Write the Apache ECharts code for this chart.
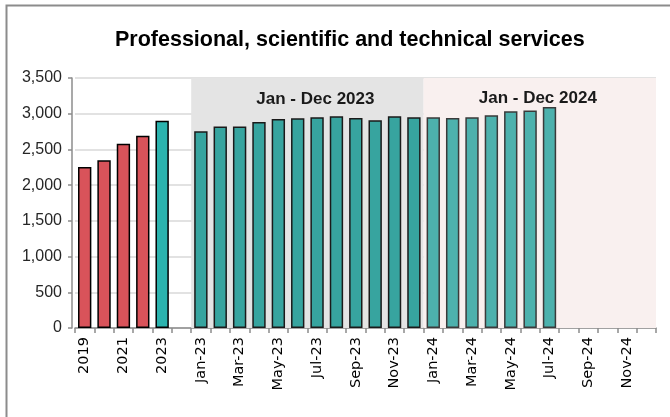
<!DOCTYPE html>
<html><head><meta charset="utf-8">
<script src="https://cdn.jsdelivr.net/npm/echarts@6/dist/echarts.min.js"></script>
<style>html,body{margin:0;padding:0;background:#fff}#c{width:670px;height:417px}</style>
</head><body><div id="c"></div>
<script>
const categories = ['2019','2020','2021','2022','2023','',
  'Jan-23','Feb-23','Mar-23','Apr-23','May-23','Jun-23','Jul-23','Aug-23','Sep-23','Oct-23','Nov-23','Dec-23',
  'Jan-24','Feb-24','Mar-24','Apr-24','May-24','Jun-24','Jul-24','Aug-24','Sep-24','Oct-24','Nov-24','Dec-24'];
const annualYears = ['2019','2020','2021','2022','2023'];
const annualValues = [2255, 2350, 2580, 2690, 2900];
const months2023 = ['Jan-23','Feb-23','Mar-23','Apr-23','May-23','Jun-23','Jul-23','Aug-23','Sep-23','Oct-23','Nov-23','Dec-23'];
const values2023 = [2755, 2820, 2820, 2885, 2925, 2935, 2950, 2965, 2940, 2910, 2965, 2950];
const months2024 = ['Jan-24','Feb-24','Mar-24','Apr-24','May-24','Jun-24','Jul-24'];
const values2024 = [2950, 2940, 2950, 2980, 3035, 3045, 3095];
const yTicks = [0, 500, 1000, 1500, 2000, 2500, 3000, 3500];

const annualData = categories.map(c => {
  const i = annualYears.indexOf(c);
  if (i < 0) return null;
  return { value: annualValues[i], itemStyle: { color: c === '2023' ? '#2bb3ae' : '#d9535a' } };
});
const d2023 = categories.map(c => { const i = months2023.indexOf(c); return i < 0 ? null : values2023[i]; });
const d2024 = categories.map(c => { const i = months2024.indexOf(c); return i < 0 ? null : values2024[i]; });

const chart = echarts.init(document.getElementById('c'), null, { renderer: 'canvas' });
chart.setOption({
  animation: false,
  backgroundColor: '#fff',
  title: {
    text: 'Professional, scientific and technical services',
    left: 110, top: 24,
    textStyle: { fontFamily: 'Liberation Sans', fontWeight: 'bold', fontSize: 21.5, color: '#000' }
  },
  graphic: [{
    type: 'rect', left: 4, top: 3, shape: { width: 720, height: 460 },
    style: { fill: 'none', stroke: '#8c8c8c', lineWidth: 2 }, silent: true
  }],
  grid: { left: 75, right: 14, top: 78, bottom: 89, containLabel: false },
  xAxis: {
    type: 'category', data: categories, boundaryGap: true,
    axisLine: { lineStyle: { color: '#8c8c8c', width: 1.5 } },
    axisTick: { show: true, interval: 0, length: 5, lineStyle: { color: '#8c8c8c', width: 1.5 } },
    axisLabel: { interval: 1, rotate: 90, margin: 9, fontFamily: 'DejaVu Sans', fontSize: 14.5, color: '#000' }
  },
  yAxis: {
    type: 'value', min: yTicks[0], max: yTicks[yTicks.length - 1], interval: yTicks[1] - yTicks[0],
    offset: 3,
    axisLine: { show: true, lineStyle: { color: '#8c8c8c', width: 1.5 } },
    axisTick: { show: true, length: 4, lineStyle: { color: '#8c8c8c', width: 1.5 } },
    splitLine: { lineStyle: { color: '#d9d9d9', width: 1.5 } },
    axisLabel: {
      fontFamily: 'Liberation Sans', fontSize: 16, color: '#262626', margin: 10,
      formatter: v => v.toLocaleString('en-US')
    }
  },
  series: [
    {
      name: 'Annual', type: 'bar', data: annualData, barWidth: '69%', barGap: '-100%',
      itemStyle: { borderColor: '#000', borderWidth: 1.5 }
    },
    {
      name: '2023', type: 'bar', data: d2023, barWidth: '69%', barGap: '-100%',
      itemStyle: { color: '#37a49f', borderColor: '#1a1a1a', borderWidth: 1.5 },
      markArea: {
        silent: true,
        itemStyle: { color: '#e4e4e4' },
        label: { show: true, position: 'insideTop', distance: 13, offset: [8, 0],
          fontFamily: 'Liberation Sans', fontWeight: 'bold', fontSize: 17, color: '#1a1a1a' },
        data: [[{ name: 'Jan - Dec 2023', xAxis: 'Jan-23' }, { xAxis: 'Dec-23' }]]
      }
    },
    {
      name: '2024', type: 'bar', data: d2024, barWidth: '69%', barGap: '-100%',
      itemStyle: { color: '#4db1ad', borderColor: '#3a3a3a', borderWidth: 1.5 },
      markArea: {
        silent: true,
        itemStyle: { color: '#f9f0ef' },
        label: { show: true, position: 'insideTop', distance: 12, offset: [-2, 0],
          fontFamily: 'Liberation Sans', fontWeight: 'bold', fontSize: 17, color: '#1a1a1a' },
        data: [[{ name: 'Jan - Dec 2024', xAxis: 'Jan-24' }, { xAxis: 'Dec-24' }]]
      }
    }
  ]
});
</script></body></html>
